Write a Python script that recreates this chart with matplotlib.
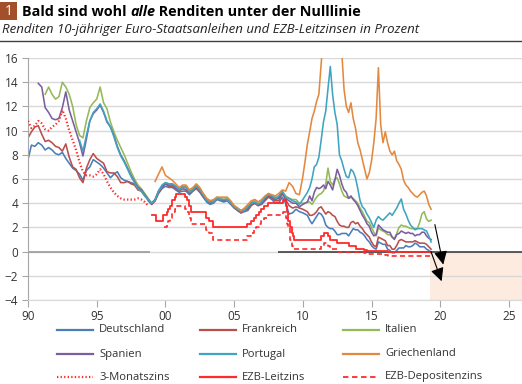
import numpy as np
import matplotlib.pyplot as plt
from matplotlib.lines import Line2D
from matplotlib.patches import Rectangle

plt.rcParams['font.family'] = ['Open Sans', 'DejaVu Sans']

nan = np.nan

# -------------------------------------------------------------------------
# Data
# -------------------------------------------------------------------------
# quarterly 1990.0 - 2009.75, then every two months 2010.0 - 2019.33
t_a = np.arange(1990, 2010, 0.25)
t_b = 2010 + np.arange(57) / 6

de_a = [7.6, 8.8, 8.7, 9.0, 8.8, 8.4, 8.6, 8.4, 8.1, 8.0, 8.2, 7.7,
        7.3, 6.9, 6.7, 6.4, 5.9, 6.7, 7.0, 7.6, 7.4, 7.2, 6.9, 6.5,
        6.1, 6.4, 6.6, 6.1, 5.9, 5.8, 5.7, 5.6, 5.4, 5.0, 4.7, 4.2,
        3.9, 4.2, 4.8, 5.2, 5.4, 5.3, 5.3, 5.1, 4.9, 5.0, 5.0, 4.7,
        5.0, 5.2, 4.9, 4.5, 4.1, 3.9, 4.0, 4.3, 4.2, 4.1, 4.2, 3.9,
        3.6, 3.4, 3.2, 3.3, 3.4, 3.8, 4.0, 3.8, 3.9, 4.2, 4.5, 4.3,
        4.0, 4.0, 4.5, 4.0, 3.1, 3.2, 3.5, 3.3]
de_b = [3.2, 3.1, 3.0, 2.6, 2.3, 2.6, 2.9, 3.2, 3.1, 2.8, 2.2, 2.0,
        1.9, 1.9, 1.7, 1.4, 1.4, 1.5, 1.5, 1.5, 1.3, 1.6, 1.9, 1.8,
        1.8, 1.6, 1.5, 1.3, 1.0, 0.8, 0.5, 0.3, 0.2, 0.8, 0.7, 0.6,
        0.6, 0.2, 0.1, -0.1, -0.1, 0.1, 0.3, 0.3, 0.3, 0.5, 0.4, 0.4,
        0.5, 0.7, 0.6, 0.4, 0.4, 0.4, 0.2, 0.1, -0.1]

fr_a = [9.4, 9.9, 10.3, 10.4, 9.7, 9.1, 9.2, 9.0, 8.7, 8.6, 8.3, 8.9,
        7.8, 7.0, 6.8, 6.1, 5.7, 6.9, 7.6, 8.1, 7.7, 7.5, 7.3, 6.6,
        6.5, 6.5, 6.2, 5.7, 5.7, 5.8, 5.6, 5.5, 5.1, 5.0, 4.6, 4.3,
        3.9, 4.2, 4.9, 5.3, 5.6, 5.4, 5.4, 5.2, 5.0, 5.2, 5.1, 4.8,
        5.0, 5.3, 5.0, 4.6, 4.2, 4.0, 4.1, 4.4, 4.3, 4.3, 4.3, 4.0,
        3.7, 3.4, 3.2, 3.4, 3.5, 3.9, 4.0, 3.8, 4.0, 4.3, 4.6, 4.4,
        4.2, 4.2, 4.8, 4.3, 3.8, 3.6, 3.7, 3.6]
fr_b = [3.5, 3.4, 3.3, 3.0, 3.0, 3.1, 3.3, 3.6, 3.7, 3.4, 3.1, 3.3,
        3.2, 3.0, 2.9, 2.5, 2.2, 2.1, 2.1, 2.0, 2.0, 2.4, 2.5, 2.3,
        2.4, 2.1, 1.9, 1.6, 1.4, 1.2, 0.8, 0.5, 0.4, 1.2, 1.1, 1.0,
        0.9, 0.5, 0.5, 0.2, 0.2, 0.5, 0.9, 1.0, 0.9, 0.8, 0.8, 0.8,
        0.8, 0.9, 0.8, 0.7, 0.7, 0.7, 0.6, 0.4, 0.2]

it_a = [nan, nan, nan, nan, nan, 13.0, 13.6, 13.0, 12.6, 12.8, 14.0, 13.6,
        13.0, 12.0, 10.5, 9.6, 9.4, 10.8, 11.9, 12.3, 12.6, 13.6, 12.3, 11.8,
        10.7, 9.9, 9.2, 8.6, 8.0, 7.3, 6.6, 6.0, 5.5, 5.2, 4.8, 4.4,
        4.0, 4.3, 5.0, 5.4, 5.7, 5.6, 5.6, 5.4, 5.2, 5.4, 5.4, 5.0,
        5.2, 5.5, 5.2, 4.8, 4.4, 4.2, 4.2, 4.5, 4.4, 4.3, 4.4, 4.1,
        3.8, 3.6, 3.4, 3.5, 3.8, 4.1, 4.3, 4.1, 4.2, 4.5, 4.8, 4.6,
        4.5, 4.5, 5.0, 4.6, 4.4, 4.3, 4.3, 4.0]
it_b = [4.0, 4.0, 4.1, 4.1, 3.9, 4.2, 4.5, 4.7, 4.8, 5.0, 5.6, 6.9,
        5.8, 5.5, 6.0, 6.1, 5.6, 5.0, 4.6, 4.5, 4.4, 4.5, 4.4, 4.2,
        4.0, 3.6, 3.3, 2.9, 2.5, 2.4, 2.0, 1.6, 1.3, 1.95, 1.8, 1.7,
        1.6, 1.4, 1.4, 1.2, 1.1, 1.5, 2.0, 2.2, 2.1, 2.1, 2.0, 1.9,
        1.9, 1.9, 1.9, 2.4, 3.1, 3.3, 2.7, 2.5, 2.6]

es_a = [nan, nan, nan, 13.9, 13.6, 11.9, 11.5, 11.0, 10.9, 11.0, 11.9, 13.2,
        11.7, 10.8, 9.9, 9.0, 7.9, 9.3, 10.8, 11.4, 11.7, 12.1, 11.5, 10.7,
        10.3, 9.6, 8.7, 8.0, 7.5, 6.9, 6.3, 5.8, 5.3, 5.1, 4.7, 4.3,
        4.0, 4.3, 5.0, 5.4, 5.6, 5.5, 5.5, 5.3, 5.1, 5.3, 5.3, 4.9,
        5.1, 5.4, 5.1, 4.6, 4.2, 4.1, 4.1, 4.4, 4.3, 4.2, 4.3, 4.0,
        3.7, 3.5, 3.3, 3.4, 3.6, 4.0, 4.1, 3.9, 4.0, 4.4, 4.7, 4.5,
        4.3, 4.4, 4.9, 4.4, 4.2, 4.0, 4.0, 3.7]
es_b = [3.9, 4.0, 4.1, 4.6, 4.2, 4.9, 5.3, 5.2, 5.3, 5.5, 5.2, 5.8,
        5.5, 5.1, 5.9, 6.8, 6.3, 5.6, 5.1, 4.9, 4.4, 4.6, 4.3, 4.1,
        3.8, 3.4, 3.0, 2.7, 2.3, 2.1, 1.6, 1.3, 1.4, 2.2, 2.0, 1.8,
        1.7, 1.6, 1.6, 1.2, 1.0, 1.4, 1.5, 1.7, 1.6, 1.5, 1.6, 1.5,
        1.5, 1.3, 1.4, 1.4, 1.6, 1.6, 1.3, 1.1, 1.0]

pt_a = [nan] * 15 + [
        9.2, 8.3, 9.6, 10.8, 11.5, 11.8, 12.2, 11.6, 10.8,
        10.3, 9.5, 8.6, 7.9, 7.4, 6.8, 6.2, 5.7, 5.2, 5.0, 4.6, 4.3,
        4.0, 4.3, 5.0, 5.5, 5.7, 5.6, 5.6, 5.4, 5.1, 5.3, 5.3, 4.9,
        5.1, 5.4, 5.1, 4.7, 4.2, 4.1, 4.1, 4.4, 4.3, 4.3, 4.3, 4.0,
        3.7, 3.5, 3.3, 3.4, 3.7, 4.0, 4.1, 3.9, 4.1, 4.5, 4.7, 4.6,
        4.4, 4.6, 5.0, 4.5, 4.4, 4.2, 4.1, 3.9]
pt_b = [4.3, 4.6, 4.9, 5.3, 6.0, 7.0, 7.2, 7.8, 9.2, 10.7, 11.6, 13.5,
        15.3, 13.0, 11.5, 10.5, 8.0, 7.5, 6.8, 6.2, 6.1, 6.8, 6.6, 6.1,
        5.2, 4.2, 3.7, 3.5, 3.1, 2.8, 2.4, 2.0, 2.6, 2.9, 2.7, 2.6,
        2.8, 3.0, 3.2, 3.0, 3.3, 3.6, 4.0, 4.35, 3.5, 3.1, 2.6, 2.2,
        2.0, 1.8, 1.9, 1.9, 1.9, 1.8, 1.7, 1.3, 0.8]

gr_a = [nan] * 37 + [
        5.8, 6.4, 7.0, 6.3, 6.1, 5.9, 5.6, 5.3, 5.5, 5.5, 5.1,
        5.3, 5.6, 5.3, 4.8, 4.4, 4.2, 4.3, 4.5, 4.5, 4.5, 4.5, 4.2,
        3.8, 3.6, 3.4, 3.6, 3.9, 4.2, 4.3, 4.1, 4.3, 4.6, 4.8, 4.7,
        4.6, 4.8, 5.1, 5.0, 5.7, 5.4, 4.8, 4.7]
gr_b = [6.2, 7.5, 8.9, 9.9, 11.0, 11.6, 12.4, 13.0, 15.5, 18.0, 19.0, 22.0,
        30.0, 28.0, 22.0, 26.0, 22.0, 16.5, 13.4, 12.0, 11.5, 12.3, 11.0, 10.2,
        9.0, 8.4, 7.6, 6.8, 6.0, 6.5, 7.5, 9.0, 11.0, 15.2, 10.5, 9.0,
        9.9, 9.0, 8.3, 8.0, 8.3, 7.5, 7.2, 6.8, 5.9, 5.5, 5.3, 5.0,
        4.8, 4.6, 4.5, 4.7, 4.9, 5.0, 4.6, 3.9, 3.5]

# 3-month rate, quarterly 1990 - 1998.75
m3 = [10.8, 10.2, 10.4, 10.8, 10.6, 10.1, 10.0, 10.3, 10.5, 10.8, 11.7, 11.0,
      10.0, 9.2, 8.4, 7.4, 6.6, 6.3, 6.3, 6.2, 6.4, 6.8, 6.4, 5.8,
      5.3, 4.9, 4.6, 4.4, 4.3, 4.3, 4.3, 4.3, 4.4, 4.3, 4.1, 3.8]

# ECB main refinancing rate (step changes)
mro_t = [1999.0, 1999.3, 1999.85, 2000.1, 2000.2, 2000.3, 2000.45, 2000.7, 2000.8,
         2001.4, 2001.6, 2001.7, 2001.85, 2002.92, 2003.2, 2003.45, 2005.95,
         2006.2, 2006.45, 2006.6, 2006.8, 2006.95, 2007.2, 2007.45, 2008.55,
         2008.78, 2008.86, 2008.95, 2009.05, 2009.2, 2009.3, 2009.37, 2011.3,
         2011.52, 2011.85, 2011.95, 2012.52, 2013.35, 2013.85, 2014.45, 2014.7,
         2016.2, 2019.33]
mro_v = [3.0, 2.5, 3.0, 3.25, 3.5, 3.75, 4.25, 4.5, 4.75,
         4.5, 4.25, 3.75, 3.25, 2.75, 2.5, 2.0, 2.25,
         2.5, 2.75, 3.0, 3.25, 3.5, 3.75, 4.0, 4.25,
         3.75, 3.25, 2.5, 2.0, 1.5, 1.25, 1.0, 1.25,
         1.5, 1.25, 1.0, 0.75, 0.5, 0.25, 0.15, 0.05,
         0.0, 0.0]

# ECB deposit rate (step changes)
dep_t = [1999.9, 2000.1, 2000.2, 2000.3, 2000.45, 2000.7, 2000.8, 2001.4, 2001.6,
         2001.7, 2001.85, 2002.92, 2003.2, 2003.45, 2005.95, 2006.2, 2006.45,
         2006.6, 2006.8, 2006.95, 2007.2, 2007.45, 2008.55, 2008.78, 2008.86,
         2008.95, 2009.05, 2009.2, 2009.3, 2011.3, 2011.52, 2011.85, 2011.95,
         2012.52, 2014.45, 2014.7, 2015.95, 2016.2, 2019.33]
dep_v = [2.0, 2.25, 2.5, 2.75, 3.25, 3.5, 3.75, 3.5, 3.25,
         2.75, 2.25, 1.75, 1.5, 1.0, 1.25, 1.5, 1.75,
         2.0, 2.25, 2.5, 2.75, 3.0, 3.25, 2.75, 2.25,
         2.0, 1.0, 0.5, 0.25, 0.5, 0.75, 0.5, 0.25,
         0.0, -0.1, -0.2, -0.3, -0.4, -0.4]

bond_series = [
    ('Deutschland', de_a, de_b, '#4A7DBA'),
    ('Frankreich', fr_a, fr_b, '#B84F4C'),
    ('Italien', it_a, it_b, '#94B957'),
    ('Spanien', es_a, es_b, '#7A5FA0'),
    ('Portugal', pt_a, pt_b, '#3FA4C0'),
    ('Griechenland', gr_a, gr_b, '#E3893F'),
]
red = '#FF2A2A'
x_ticks = list(range(1990, 2026, 5))

# -------------------------------------------------------------------------
# Figure
# -------------------------------------------------------------------------
W, H = 522, 384
fig = plt.figure(figsize=(W / 100, H / 100), dpi=100)
ax = fig.add_axes([28 / W, 1 - 300 / H, 1 - 28 / W, 242 / H])

ax.set_xlim(1990, 2025.95)
ax.set_ylim(-4, 16)

# shaded "below zero" area
ax.axvspan(2019.25, 2026, ymin=0, ymax=0.2, color='#FDEBE0', lw=0, zorder=0)

ax.set_yticks(range(-4, 17, 2))
ax.yaxis.grid(True, color='#D9D9D9', lw=1)
ax.set_axisbelow(True)

ax.hlines(0, 1990, 1998.9, color='#9A9A9A', lw=1.2, zorder=1)
ax.hlines(0, 2008.2, 2026, color='#404040', lw=1.2, zorder=1)

styles = {}
for name, ya, yb, col in bond_series:
    t = np.concatenate([t_a, t_b])
    y = np.array(list(ya) + list(yb), dtype=float)
    ax.plot(t, y, color=col, lw=1.15, zorder=2)
    styles[name] = dict(color=col, lw=1.6, ls='-')

dotted = (0, (0.6, 1.0))
dashed = (0, (3, 2))
ax.plot(t_a[:len(m3)], m3, color=red, lw=1.6, ls=dotted, zorder=3)
ax.plot(mro_t, mro_v, color=red, lw=1.3, drawstyle='steps-post', zorder=3)
ax.plot(dep_t, dep_v, color=red, lw=1.2, ls=dashed, drawstyle='steps-post', zorder=3)
styles['3-Monatszins'] = dict(color=red, lw=1.6, ls=dotted)
styles['EZB-Leitzins'] = dict(color=red, lw=1.6, ls='-')
styles['EZB-Depositenzins'] = dict(color=red, lw=1.3, ls=dashed)

# arrows into the negative area
arrow = dict(arrowstyle='-|>', color='black', lw=0.8, mutation_scale=20,
             shrinkA=0, shrinkB=0)
ax.annotate('', xy=(2020.22, -1.07), xytext=(2019.61, 2.23), arrowprops=arrow)
ax.annotate('', xy=(2020.1, -2.45), xytext=(2019.32, 0.02), arrowprops=arrow)

# axes styling
for s in ['top', 'right']:
    ax.spines[s].set_visible(False)
ax.spines['left'].set_color('#A6A6A6')
ax.spines['bottom'].set_color('#D9D9D9')
ax.set_xticks(x_ticks)
ax.set_xticklabels([f"{x % 100:02d}" for x in x_ticks])
ax.tick_params(axis='y', length=4, color='#A6A6A6', labelsize=8.5,
               labelcolor='#333333', pad=3)
ax.tick_params(axis='x', length=5, color='#A6A6A6', labelsize=8.5,
               labelcolor='#333333', pad=2)

# -------------------------------------------------------------------------
# Legend (3 x 3, drawn by hand to match column positions)
# -------------------------------------------------------------------------
legend_rows = [['Deutschland', 'Frankreich', 'Italien'],
               ['Spanien', 'Portugal', 'Griechenland'],
               ['3-Monatszins', 'EZB-Leitzins', 'EZB-Depositenzins']]
row_y = [330, 354, 377]
col_x = [57, 200, 343]
for r, row in enumerate(legend_rows):
    for c, name in enumerate(row):
        st = styles[name]
        yy = 1 - row_y[r] / H
        fig.add_artist(Line2D([col_x[c] / W, (col_x[c] + 36) / W], [yy, yy],
                              color=st['color'], lw=st['lw'], ls=st['ls'],
                              transform=fig.transFigure))
        fig.text((col_x[c] + 42) / W, yy, name, fontsize=8.1, color='#333333',
                 va='center', ha='left')

# -------------------------------------------------------------------------
# Title block
# -------------------------------------------------------------------------
fig.add_artist(Rectangle((0, 1 - 20 / H), 17 / W, 18 / H, transform=fig.transFigure,
                         color='#A3502A', lw=0))
fig.text(8.5 / W, 1 - 11.5 / H, '1', color='white', fontsize=10,
         ha='center', va='center')

renderer = fig.canvas.get_renderer()
x_px = 22
for part, style in [('Bald sind wohl ', 'normal'), ('alle', 'italic'),
                    (' Renditen unter der Nulllinie', 'normal')]:
    txt = fig.text(x_px / W, 1 - 11.5 / H, part, fontsize=10.4, fontweight='bold',
                   fontstyle=style, color='black', ha='left', va='center')
    x_px += txt.get_window_extent(renderer).width

fig.text(2 / W, 1 - 30 / H,
         'Renditen 10-jähriger Euro-Staatsanleihen und EZB-Leitzinsen in Prozent',
         fontsize=9.5, fontstyle='italic', color='#222222', ha='left', va='center')
fig.add_artist(Line2D([0, 1], [1 - 41 / H, 1 - 41 / H], color='#404040', lw=1,
                      transform=fig.transFigure))

fig.savefig('out.png', dpi=100)
